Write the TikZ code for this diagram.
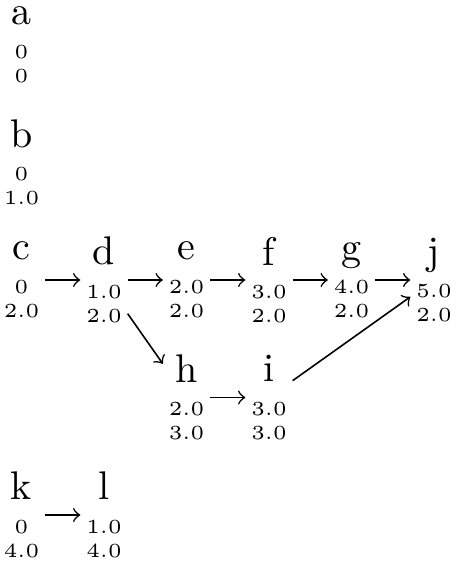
\documentclass[tikz,border=0pt]{standalone}
\begin{document}
\begin{tikzpicture}[x=0.25pt,y=-0.25pt,
  vtx/.style={align=center,inner sep=1.3pt,font=\fontsize{5}{6}\selectfont},
  edge/.style={->,line width=0.4pt}]
\useasboundingbox (0,0) rectangle (456,564);
\newcommand\vlabel[3]{{\fontsize{10}{12}\selectfont #1}\\[2.4pt]#2\\#3}
\node[vtx] (a) at (21.5,45) {\vlabel{a}{0}{0}};
\node[vtx] (b) at (21.5,162.5) {\vlabel{b}{0}{1.0}};
\node[vtx] (c) at (21.5,280) {\vlabel{c}{0}{2.0}};
\node[vtx] (d) at (104,280) {\vlabel{d}{1.0}{2.0}};
\node[vtx] (e) at (186.5,280) {\vlabel{e}{2.0}{2.0}};
\node[vtx] (f) at (269,280) {\vlabel{f}{3.0}{2.0}};
\node[vtx] (g) at (351.5,280) {\vlabel{g}{4.0}{2.0}};
\node[vtx] (j) at (434,280) {\vlabel{j}{5.0}{2.0}};
\node[vtx] (h) at (186.5,397.5) {\vlabel{h}{2.0}{3.0}};
\node[vtx] (i) at (269,397.5) {\vlabel{i}{3.0}{3.0}};
\node[vtx] (k) at (21.5,515) {\vlabel{k}{0}{4.0}};
\node[vtx] (l) at (104,515) {\vlabel{l}{1.0}{4.0}};
\draw[edge] (c) -- (d);
\draw[edge] (d) -- (e);
\draw[edge] (e) -- (f);
\draw[edge] (f) -- (g);
\draw[edge] (g) -- (j);
\draw[edge] (d) -- (h);
\draw[edge] (h) -- (i);
\draw[edge] (i) -- (j);
\draw[edge] (k) -- (l);
\end{tikzpicture}
\end{document}
